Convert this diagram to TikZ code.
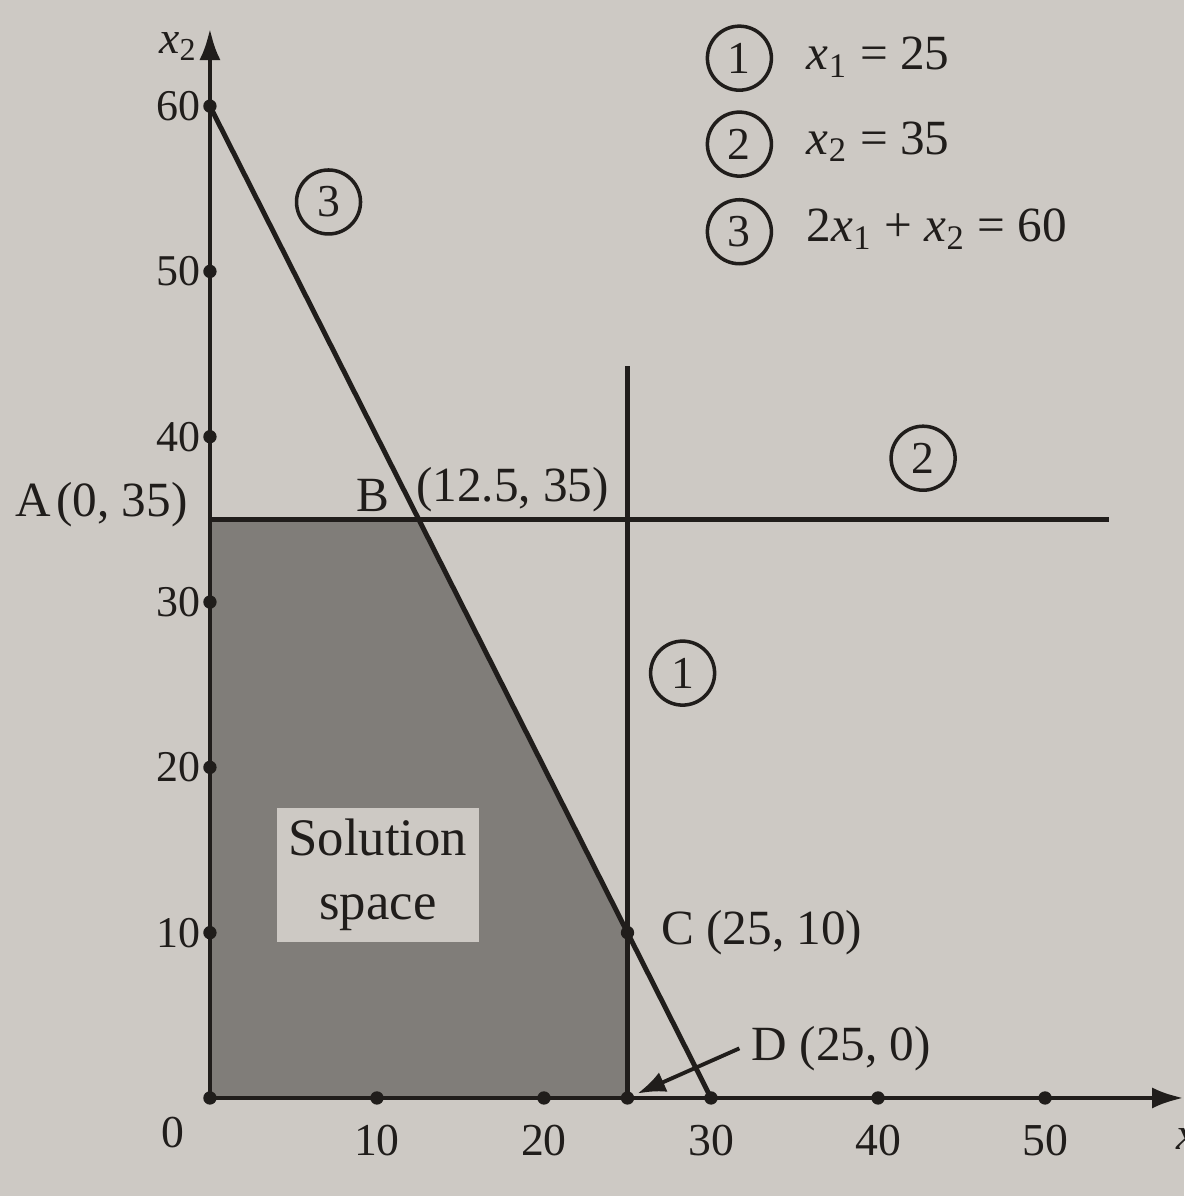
\documentclass[tikz,border=0pt]{standalone}
\usepackage{fontspec}
\setmainfont{Liberation Serif}
\usepackage{tikz}
\usetikzlibrary{arrows.meta,positioning}

\definecolor{paper}{RGB}{205,201,196}
\definecolor{regiongray}{RGB}{128,125,121}
\definecolor{ink}{RGB}{32,29,27}

\newcommand{\xs}[1]{\textit{x}\textsubscript{#1}}

\tikzset{
  graphline/.style={draw=ink, line width=1.4pt},
  axisline/.style={draw=ink, line width=1.3pt, -{Latex[length=9pt,width=6pt]}},
  tickdot/.style={circle, fill=ink, inner sep=0pt, minimum size=3.8pt},
  circnum/.style={circle, draw=ink, line width=1pt, minimum size=0.64cm, inner sep=0pt, text=ink, font=\fontsize{13}{13}\selectfont},
  ptlabel/.style={text=ink, font=\fontsize{14}{16}\selectfont},
  ticklabel/.style={text=ink, inner sep=1pt, font=\fontsize{12.5}{14}\selectfont},
}

\begin{document}
\begin{tikzpicture}[x=0.167cm, y=0.1653cm]
    \path[use as bounding box, fill=paper] (-12.57,-5.93) rectangle (58.32,66.42);

    % corner points and line ends
    \coordinate (O) at (0,0);
    \coordinate (A) at (0,35);
    \coordinate (B) at (12.5,35);
    \coordinate (C) at (25,10);
    \coordinate (D) at (25,0);
    \coordinate (P60) at (0,60);
    \coordinate (P30) at (30,0);
    \coordinate (L1top) at (25,44.3);
    \coordinate (L2end) at (53.8,35);
    \coordinate (Ytip) at (0,64.7);
    \coordinate (Xtip) at (58.3,0);

    % solution space
    \fill[regiongray] (O) -- (A) -- (B) -- (C) -- (D) -- cycle;
    \node[fill=paper, align=center, minimum width=1.96cm, minimum height=1.3cm,
          text=ink, font=\fontsize{15}{18}\selectfont] (sol) at (10.06,13.5) {Solution\\space};

    % axes
    \draw[axisline] (O) -- (Ytip);
    \draw[axisline] (O) -- (Xtip);
    \node[ticklabel, anchor=east, font=\fontsize{13}{14}\selectfont] (ylab) at (-0.5,63.6) {\xs{2}};
    \node[ticklabel, anchor=north west, font=\fontsize{13}{14}\selectfont] (xlab) at (57.6,-1.6) {\xs{1}};

    % constraint lines
    \draw[graphline] (P60) -- (P30);
    \draw[graphline] (D) -- (L1top);
    \draw[graphline] (A) -- (L2end);

    % ticks
    \foreach \y in {10,20,...,60} {
        \node[tickdot] (ty\y) at (0,\y) {};
        \node[ticklabel, anchor=east] (ly\y) at (-0.3,\y) {\y};
    }
    \foreach \x in {10,20,30,40,50} {
        \node[tickdot] (tx\x) at (\x,0) {};
        \node[ticklabel, anchor=north, font=\fontsize{13}{14}\selectfont] (lx\x) at (\x,-1.4) {\x};
    }
    \node[tickdot] (Odot) at (O) {};
    \node[ticklabel, anchor=north east, font=\fontsize{13}{14}\selectfont] (l0) at (-1.3,-0.9) {0};
    \node[tickdot] (Cdot) at (C) {};
    \node[tickdot] (Ddot) at (D) {};

    % corner labels
    \node[ptlabel, anchor=east] (Alab) at (-0.6,35.9) {A\kern1.5pt(0, 35)};
    \node[ptlabel, anchor=south east, inner sep=1pt] (Blab) at (11.0,35.2) {B};
    \node[ptlabel, anchor=south west, inner sep=1pt] (Bxy) at (12.1,35.2) {(12.5, 35)};
    \node[ptlabel, right=4pt of Cdot] (Clab) {C (25, 10)};
    \node[ptlabel, anchor=west] (Dlab) at (31.7,3.0) {D (25, 0)};
    \draw[draw=ink, line width=1.1pt, -{Latex[length=8pt,width=6pt]}, shorten >=1pt] (Dlab.west) -- (Ddot);

    % line markers
    \node[circnum] (m3) at (7.1,54.2) {3};
    \node[circnum] (m2) at (42.7,38.7) {2};
    \node[circnum] (m1) at (28.3,25.7) {1};

    % legend
    \node[circnum] (k1) at (31.7,62.9) {1};
    \node[circnum] (k2) at (31.7,57.7) {2};
    \node[circnum] (k3) at (31.7,52.4) {3};
    \node[ptlabel, anchor=base west] (e1) at (35.0,62.2) {\xs{1} = 25};
    \node[ptlabel, anchor=base west] (e2) at (35.0,57.1) {\xs{2} = 35};
    \node[ptlabel, anchor=base west] (e3) at (35.0,51.8) {2\xs{1} + \xs{2} = 60};
\end{tikzpicture}
\end{document}
